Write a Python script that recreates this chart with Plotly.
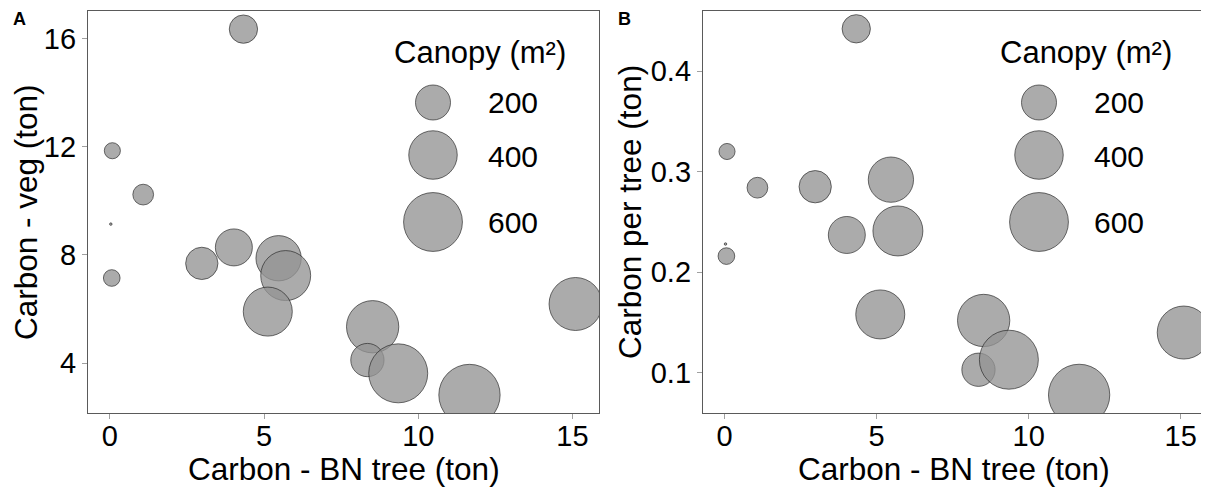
import plotly.graph_objects as go

# ---------------- data ----------------
carbon_bn_tree = [4.33, 0.08, 1.08, 0.03, 0.06, 2.98, 4.02, 5.47, 5.70, 5.12, 8.52, 8.35, 9.35, 11.66, 15.10]
carbon_veg = [16.34, 11.85, 10.23, 9.14, 7.15, 7.69, 8.28, 7.88, 7.24, 5.91, 5.35, 4.12, 3.63, 2.83, 6.19]
carbon_per_tree = [0.442, 0.320, 0.284, 0.228, 0.216, 0.285, 0.237, 0.292, 0.241, 0.158, 0.152, 0.103, 0.113, 0.078, 0.140]
canopy = [126, 35, 63, 0, 38, 168, 225, 346, 426, 409, 469, 179, 603, 654, 482]

legend_canopy = [200, 400, 600]
legend_labels = ["200", "400", "600"]
xticks = [0, 5, 10, 15]
yticks_a = [4, 8, 12, 16]
yticks_b = [0.1, 0.2, 0.3, 0.4]

# ---------------- style ----------------
OFF = 8  # page body margin in the browser
W, H = 1209 - OFF, 490 - OFF
FONT = "Liberation Sans, Arial, sans-serif"
FILL = "rgba(148,148,148,0.78)"
EDGE = "rgba(30,30,30,0.7)"
BORDER = "#5a5a5a"


def diam(c):
    # area-type size scale (like ggplot scale_size)
    return 2.5 + 2.3 * (c ** 0.5)


def px_x(p):
    return (p - OFF) / W


def px_y(p):
    return 1 - (p - OFF) / H


# panel boxes in window pixels
A_L, A_R = 88, 599
B_L, B_R = 703, 1205
TOP, BOT = 11, 413

fig = go.Figure()

sizes = [diam(c) for c in canopy]
mk = dict(size=sizes, sizemode="diameter", color=FILL, opacity=1, line=dict(color=EDGE, width=0.9))

fig.add_trace(go.Scatter(x=carbon_bn_tree, y=carbon_veg, mode="markers", marker=mk,
                         xaxis="x", yaxis="y", showlegend=False, cliponaxis=True))
fig.add_trace(go.Scatter(x=carbon_bn_tree, y=carbon_per_tree, mode="markers", marker=mk,
                         xaxis="x2", yaxis="y2", showlegend=False, cliponaxis=True))

# size legend keys drawn on a full-figure pixel overlay axis
leg_y = [102.5, 155, 222]
lab_y = [102.5, 156, 223]
for right in (A_R, B_R):
    fig.add_trace(go.Scatter(
        x=[right - 166] * len(legend_canopy), y=leg_y, mode="markers",
        marker=dict(size=[diam(c) for c in legend_canopy], sizemode="diameter", opacity=1,
                    color=FILL, line=dict(color=EDGE, width=0.9)),
        xaxis="x3", yaxis="y3", showlegend=False, cliponaxis=False))

annotations = []
for right in (A_R, B_R):
    annotations.append(dict(text="Canopy (m²)", x=px_x(right - 119), y=px_y(52), xref="paper", yref="paper",
                            xanchor="center", yanchor="middle", showarrow=False,
                            font=dict(family=FONT, size=31, color="black")))
    for lab, yy in zip(legend_labels, lab_y):
        annotations.append(dict(text=lab, x=px_x(right - 113), y=px_y(yy), xref="paper", yref="paper",
                                xanchor="left", yanchor="middle", showarrow=False,
                                font=dict(family=FONT, size=30, color="black")))

TF = dict(family=FONT, size=31.5, color="black")
annotations += [
    dict(text="Carbon - BN tree (ton)", x=px_x((A_L + A_R) / 2), y=px_y(469), xref="paper", yref="paper",
         xanchor="center", yanchor="middle", showarrow=False, font=TF),
    dict(text="Carbon - BN tree (ton)", x=px_x((B_L + B_R) / 2), y=px_y(469), xref="paper", yref="paper",
         xanchor="center", yanchor="middle", showarrow=False, font=TF),
    dict(text="Carbon - veg (ton)", x=px_x(26), y=px_y(212), xref="paper", yref="paper", textangle=-90,
         xanchor="center", yanchor="middle", showarrow=False, font=TF),
    dict(text="Carbon per tree (ton)", x=px_x(630), y=px_y(212), xref="paper", yref="paper", textangle=-90,
         xanchor="center", yanchor="middle", showarrow=False, font=TF),
    dict(text="<b>A</b>", x=px_x(19), y=px_y(19), xref="paper", yref="paper",
         xanchor="center", yanchor="middle", showarrow=False, font=dict(family=FONT, size=18, color="black")),
    dict(text="<b>B</b>", x=px_x(624), y=px_y(19), xref="paper", yref="paper",
         xanchor="center", yanchor="middle", showarrow=False, font=dict(family=FONT, size=18, color="black")),
]

axis_common = dict(showgrid=False, zeroline=False, showline=True, mirror=True, linecolor=BORDER, linewidth=1.3,
                   ticks="outside", ticklen=5, tickwidth=1, tickcolor="#a0a0a0",
                   tickfont=dict(family=FONT, size=29, color="black"))

fig.update_layout(
    width=W, height=H, margin=dict(l=0, r=0, t=0, b=0),
    paper_bgcolor="white", plot_bgcolor="rgba(0,0,0,0)",
    showlegend=False,
    xaxis=dict(domain=[px_x(A_L), px_x(A_R)], range=[-0.71, 15.86], tickvals=xticks, anchor="y",
               ticklabelstandoff=-8, **axis_common),
    yaxis=dict(domain=[px_y(BOT), px_y(TOP)], range=[2.165, 17.01], tickvals=yticks_a, anchor="x", **axis_common),
    xaxis2=dict(domain=[px_x(B_L), px_x(B_R)], range=[-0.71, 15.8], tickvals=xticks, anchor="y2",
                ticklabelstandoff=-8, **axis_common),
    yaxis2=dict(domain=[px_y(BOT), px_y(TOP)], range=[0.060, 0.4597], tickvals=yticks_b, anchor="x2",
                tickformat=".1f", **axis_common),
    xaxis3=dict(domain=[0, 1], range=[OFF, 1209], visible=False, anchor="y3", fixedrange=True),
    yaxis3=dict(domain=[0, 1], range=[490, OFF], visible=False, anchor="x3", fixedrange=True),
    annotations=annotations,
)

fig.write_html("out.html")
